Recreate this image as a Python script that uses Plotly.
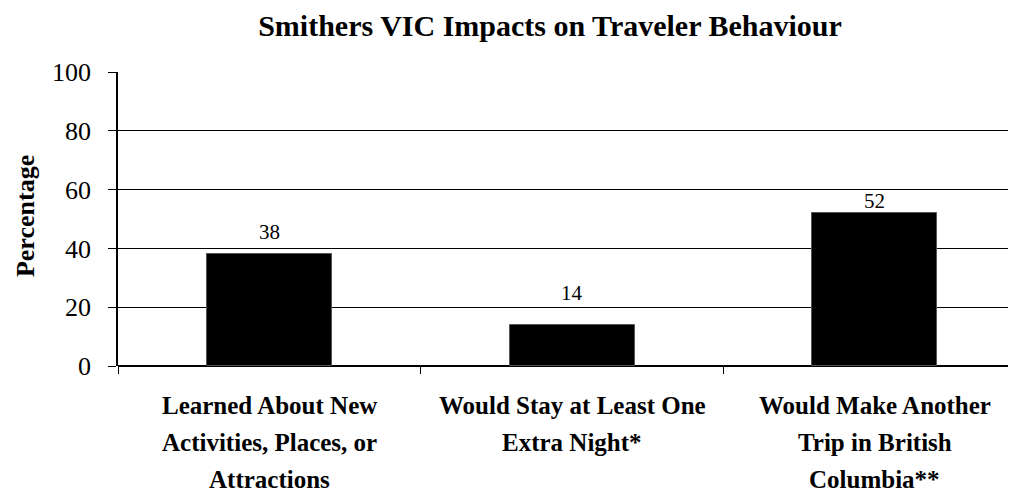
import plotly.graph_objects as go

# ---- data ----
categories = [
    "Learned About New<br>Activities, Places, or<br>Attractions",
    "Would Stay at Least One<br>Extra Night*",
    "Would Make Another<br>Trip in British<br>Columbia**",
]
values = [38, 14, 52]
y_ticks = [0, 20, 40, 60, 80, 100]
title_text = "Smithers VIC Impacts on Traveler Behaviour"
y_title = "Percentage"

FONT = "Palatino Linotype, Book Antiqua, Palatino, Liberation Serif, serif"

# page body adds an 8px offset; the figure is sized to fill the rest of the window
W, H = 1008, 487
L, T = 110, 64
PLOT_H = 294

x_pos = list(range(len(categories)))

fig = go.Figure()
fig.add_trace(go.Bar(
    x=x_pos, y=values, width=0.413,
    marker=dict(color="black", line=dict(color="#555555", width=1)),
    hoverinfo="skip",
))

annotations = []
# data labels (offset above bar top in pixels, as placed in the original)
label_shift = [22, 32, 12]
for xi, v, sh in zip(x_pos, values, label_shift):
    annotations.append(dict(
        x=xi, y=v, xref="x", yref="y", text=str(v), showarrow=False,
        yanchor="middle", yshift=sh,
        font=dict(family=FONT, size=21, color="black"),
    ))

# category labels, one annotation per line for the wide line spacing
for xi, cat in zip(x_pos, categories):
    for k, line in enumerate(cat.split("<br>")):
        annotations.append(dict(
            x=xi, y=0, xref="x", yref="paper", text="<b>%s</b>" % line,
            showarrow=False, yanchor="middle", yshift=-39 - 37 * k,
            font=dict(family=FONT, size=25, color="black"),
        ))

# y axis title
annotations.append(dict(
    x=-(L - 17) / (W - L), y=0.51, xref="paper", yref="paper",
    text="<b>%s</b>" % y_title,
    showarrow=False, textangle=-90, xanchor="center", yanchor="middle",
    font=dict(family=FONT, size=26, color="black"),
))

fig.update_layout(
    width=W, height=H,
    margin=dict(l=L, r=0, t=T, b=H - T - PLOT_H, pad=0),
    paper_bgcolor="white", plot_bgcolor="white",
    showlegend=False,
    title=dict(text="<b>%s</b>" % title_text, x=(550 - 8) / W, xanchor="center",
               y=1 - 17 / H, yanchor="middle", xref="container",
               font=dict(family=FONT, size=30, color="black")),
    annotations=annotations,
    bargap=0,
)

fig.update_xaxes(
    type="linear", range=[-0.5, 2.466],
    tickmode="array", tickvals=[-0.5, 0.5, 1.5], showticklabels=False,
    ticks="outside", ticklen=7, tickcolor="black", tickwidth=1,
    showgrid=False, zeroline=False,
    showline=False,
)

fig.update_yaxes(
    range=[0, 100], tickmode="array", tickvals=y_ticks,
    ticktext=[str(t) for t in y_ticks],
    ticks="outside", ticklen=8, tickcolor="black", tickwidth=1,
    ticklabelstandoff=12,
    tickfont=dict(family=FONT, size=26, color="black"),
    showgrid=True, gridcolor="black", gridwidth=1,
    showline=True, linecolor="black", linewidth=1.5,
    zeroline=True, zerolinecolor="black", zerolinewidth=1.5,
)

fig.write_html("out.html")
